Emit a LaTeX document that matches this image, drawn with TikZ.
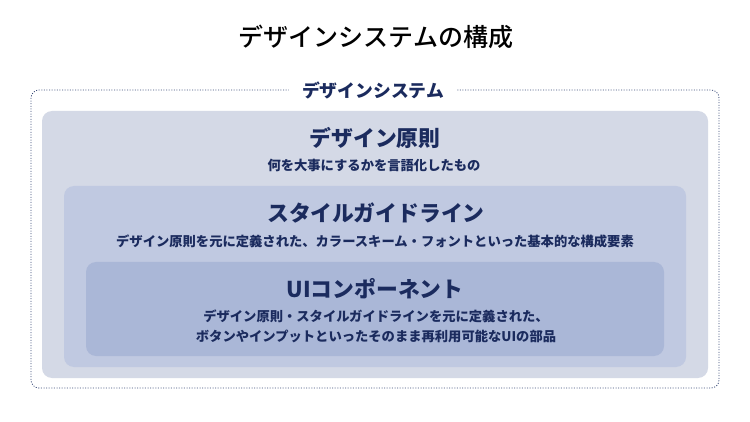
\documentclass[tikz,border=0pt]{standalone}
\usepackage{fontspec}
\setmainfont{Noto Sans CJK JP}
\newfontfamily\titlefont{Noto Sans CJK JP}[UprightFont={* Medium}]
\begin{document}
\begin{tikzpicture}[x=1pt,y=-1pt,
  box/.style={rounded corners=10pt},
  head/.style={font=\bfseries\fontsize{21.8}{26}\selectfont,text=txtc,anchor=center,inner sep=0pt},
  sub/.style={font=\bfseries\fontsize{13.3}{20}\selectfont,text=txtc,anchor=center,inner sep=0pt,align=center}]
\definecolor{txtc}{HTML}{1B2B5E}
\definecolor{c1}{HTML}{D4D9E6}
\definecolor{c2}{HTML}{C0C9E1}
\definecolor{c3}{HTML}{AAB7D7}
\definecolor{dotc}{HTML}{3A4A78}
\useasboundingbox (0,0) rectangle (750,422);
\fill[white] (0,0) rectangle (750,422);
\node[font=\titlefont\fontsize{25}{29}\selectfont,inner sep=0pt] (title) at (376,37) {デザインシステムの構成};
\draw[dotc,line width=0.8pt,dash pattern=on 1pt off 1.6pt,rounded corners=8pt] (31,90) rectangle (719,388);
\node[fill=white,inner xsep=13pt,inner ysep=3pt,font=\bfseries\fontsize{17.8}{20}\selectfont,text=txtc] (lbl) at (373,90) {デザインシステム};
\fill[c1,box] (42,111) rectangle (708,378);
\fill[c2,box] (64,186) rectangle (686,367);
\fill[c3,box] (86,262) rectangle (664,356);
\node[head] (h1) at (375,138) {デザイン原則};
\node[sub] (s1) at (374,165) {何を大事にするかを言語化したもの};
\node[head] (h2) at (376,213) {スタイルガイドライン};
\node[sub] (s2) at (375,241) {デザイン原則を元に定義された、カラースキーム・フォントといった基本的な構成要素};
\node[head] (h3) at (375,289) {UIコンポーネント};
\node[sub] (s3) at (376,326) {デザイン原則・スタイルガイドラインを元に定義された、\\ボタンやインプットといったそのまま再利用可能なUIの部品};
\end{tikzpicture}
\end{document}
